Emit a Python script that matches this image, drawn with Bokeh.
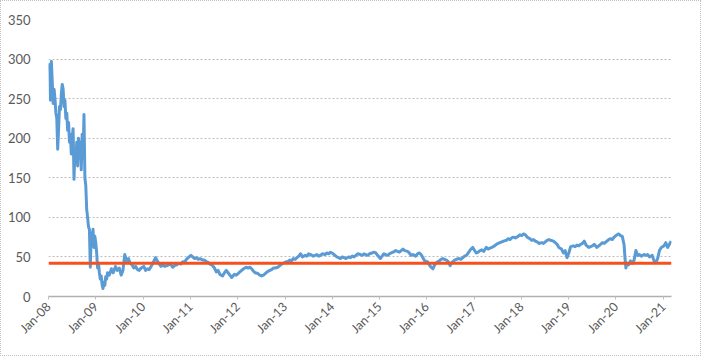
import math
import pandas as pd
from bokeh.plotting import figure
from bokeh.models import Range1d, FixedTicker, DatetimeTickFormatter
from bokeh.embed import file_html
from bokeh.resources import INLINE

# ---- data ----
dates = [
    "2008-01-02", "2008-01-09", "2008-01-16", "2008-01-23", "2008-01-30", "2008-02-06", "2008-02-13",
    "2008-02-20", "2008-02-27", "2008-03-05", "2008-03-12", "2008-03-19", "2008-03-26", "2008-04-02",
    "2008-04-09", "2008-04-16", "2008-04-23", "2008-04-30", "2008-05-07", "2008-05-14", "2008-05-21",
    "2008-05-28", "2008-06-04", "2008-06-11", "2008-06-18", "2008-06-25", "2008-07-02", "2008-07-09",
    "2008-07-16", "2008-07-23", "2008-07-30", "2008-08-06", "2008-08-13", "2008-08-20", "2008-08-27",
    "2008-09-03", "2008-09-10", "2008-09-17", "2008-09-24", "2008-10-01", "2008-10-08", "2008-10-15",
    "2008-10-22", "2008-10-29", "2008-11-05", "2008-11-12", "2008-11-19", "2008-11-26", "2008-12-03",
    "2008-12-10", "2008-12-17", "2008-12-24", "2008-12-31", "2009-01-07", "2009-01-14", "2009-01-21",
    "2009-01-28", "2009-02-04", "2009-02-11", "2009-02-18", "2009-02-25", "2009-03-04", "2009-03-11",
    "2009-03-18", "2009-03-25", "2009-04-01", "2009-04-15", "2009-05-01", "2009-05-15", "2009-06-01",
    "2009-06-15", "2009-07-01", "2009-07-15", "2009-07-29", "2009-08-12", "2009-08-26", "2009-09-09",
    "2009-09-23", "2009-10-07", "2009-10-21", "2009-11-04", "2009-11-18", "2009-12-02", "2009-12-16",
    "2010-01-06", "2010-01-20", "2010-02-03", "2010-02-17", "2010-03-03", "2010-03-17", "2010-04-07",
    "2010-04-21", "2010-05-05", "2010-05-19", "2010-06-02", "2010-06-16", "2010-07-07", "2010-07-21",
    "2010-08-04", "2010-08-18", "2010-09-01", "2010-09-15", "2010-10-06", "2010-10-20", "2010-11-03",
    "2010-11-17", "2010-12-01", "2010-12-15", "2011-01-05", "2011-01-19", "2011-02-02", "2011-02-16",
    "2011-03-02", "2011-03-16", "2011-04-06", "2011-04-20", "2011-05-04", "2011-05-18", "2011-06-01",
    "2011-06-15", "2011-07-06", "2011-07-20", "2011-08-03", "2011-08-17", "2011-09-07", "2011-09-21",
    "2011-10-05", "2011-10-19", "2011-11-02", "2011-11-16", "2011-12-07", "2011-12-21", "2012-01-04",
    "2012-01-18", "2012-02-01", "2012-02-15", "2012-03-07", "2012-03-21", "2012-04-04", "2012-04-18",
    "2012-05-02", "2012-05-16", "2012-06-06", "2012-06-20", "2012-07-04", "2012-07-18", "2012-08-01",
    "2012-08-15", "2012-09-05", "2012-09-19", "2012-10-03", "2012-10-17", "2012-11-07", "2012-11-21",
    "2012-12-05", "2012-12-19", "2013-01-09", "2013-01-23", "2013-02-06", "2013-02-20", "2013-03-06",
    "2013-03-20", "2013-04-03", "2013-04-17", "2013-05-01", "2013-05-15", "2013-06-05", "2013-06-19",
    "2013-07-03", "2013-07-17", "2013-08-07", "2013-08-21", "2013-09-04", "2013-09-18", "2013-10-02",
    "2013-10-16", "2013-11-06", "2013-11-20", "2013-12-04", "2013-12-18", "2014-01-08", "2014-01-22",
    "2014-02-05", "2014-02-19", "2014-03-05", "2014-03-19", "2014-04-02", "2014-04-16", "2014-05-07",
    "2014-05-21", "2014-06-04", "2014-06-18", "2014-07-02", "2014-07-16", "2014-08-06", "2014-08-20",
    "2014-09-03", "2014-09-17", "2014-10-01", "2014-10-15", "2014-11-05", "2014-11-19", "2014-12-03",
    "2014-12-17", "2015-01-07", "2015-01-21", "2015-02-04", "2015-02-18", "2015-03-04", "2015-03-18",
    "2015-04-01", "2015-04-15", "2015-05-06", "2015-05-20", "2015-06-03", "2015-06-17", "2015-07-01",
    "2015-07-15", "2015-08-05", "2015-08-19", "2015-09-02", "2015-09-16", "2015-10-07", "2015-10-21",
    "2015-11-04", "2015-11-18", "2015-12-02", "2015-12-16", "2016-01-06", "2016-01-20", "2016-02-03",
    "2016-02-17", "2016-03-02", "2016-03-16", "2016-04-06", "2016-04-20", "2016-05-04", "2016-05-18",
    "2016-06-01", "2016-06-15", "2016-06-29", "2016-07-13", "2016-08-03", "2016-08-17", "2016-09-07",
    "2016-09-21", "2016-10-05", "2016-10-19", "2016-11-02", "2016-11-16", "2016-12-07", "2016-12-21",
    "2017-01-04", "2017-01-18", "2017-02-01", "2017-02-15", "2017-03-01", "2017-03-15", "2017-04-05",
    "2017-04-19", "2017-05-03", "2017-05-17", "2017-06-07", "2017-06-21", "2017-07-05", "2017-07-19",
    "2017-08-02", "2017-08-16", "2017-09-06", "2017-09-20", "2017-10-04", "2017-10-18", "2017-11-01",
    "2017-11-15", "2017-12-06", "2017-12-20", "2018-01-03", "2018-01-17", "2018-01-31", "2018-02-14",
    "2018-03-07", "2018-03-21", "2018-04-04", "2018-04-18", "2018-05-02", "2018-05-16", "2018-06-06",
    "2018-06-20", "2018-07-04", "2018-07-18", "2018-08-01", "2018-08-15", "2018-09-05", "2018-09-19",
    "2018-10-03", "2018-10-17", "2018-11-07", "2018-11-21", "2018-12-05", "2018-12-19", "2019-01-02",
    "2019-01-16", "2019-02-06", "2019-02-20", "2019-03-06", "2019-03-20", "2019-04-03", "2019-04-17",
    "2019-05-01", "2019-05-15", "2019-06-05", "2019-06-19", "2019-07-03", "2019-07-17", "2019-08-07",
    "2019-08-21", "2019-09-04", "2019-09-18", "2019-10-02", "2019-10-16", "2019-11-06", "2019-11-20",
    "2019-12-04", "2019-12-18", "2020-01-08", "2020-01-22", "2020-02-05", "2020-02-19", "2020-03-04",
    "2020-03-11", "2020-03-18", "2020-03-25", "2020-04-08", "2020-04-22", "2020-05-06", "2020-05-20",
    "2020-06-03", "2020-06-17", "2020-07-01", "2020-07-15", "2020-08-05", "2020-08-19", "2020-09-02",
    "2020-09-16", "2020-10-07", "2020-10-21", "2020-11-04", "2020-11-18", "2020-12-02", "2020-12-16",
    "2021-01-06", "2021-01-20", "2021-02-03", "2021-02-17", "2021-03-01",
]
prices = [
    285, 293, 248, 297, 272, 244, 262,
    250, 232, 225, 186, 212, 240, 236,
    255, 268, 262, 240, 248, 225, 232,
    210, 220, 195, 205, 180, 200, 212,
    148, 185, 170, 195, 165, 200, 175,
    195, 160, 205, 175, 230, 150, 140,
    110, 100, 88, 85, 37, 80, 72,
    85, 62, 76, 68, 55, 36, 42,
    30, 22, 26, 15, 10, 18, 14,
    25, 22, 30, 27, 35, 30, 38,
    33, 36, 27, 33, 53, 45, 48,
    42, 40, 36, 38, 34, 33, 36,
    38, 33, 35, 34, 38, 42, 49,
    45, 41, 38, 40, 38, 39, 41,
    40, 37, 39, 40, 42, 41, 44,
    43, 47, 49, 52, 50, 48, 49,
    47, 48, 46, 46, 44, 43, 41,
    40, 36, 31, 33, 28, 26, 30,
    33, 30, 27, 24, 28, 27, 29,
    31, 33, 35, 37, 36, 37, 35,
    32, 30, 29, 27, 26, 27, 29,
    31, 33, 34, 36, 36, 37, 39,
    41, 42, 44, 44, 46, 45, 48,
    47, 49, 51, 54, 50, 52, 51,
    54, 53, 51, 52, 53, 51, 52,
    54, 53, 55, 54, 56, 54, 52,
    50, 49, 48, 50, 49, 48, 50,
    49, 51, 50, 52, 54, 53, 52,
    54, 53, 52, 54, 55, 56, 55,
    52, 48, 51, 54, 53, 52, 54,
    55, 56, 58, 57, 56, 58, 60,
    58, 57, 55, 52, 53, 51, 54,
    55, 53, 49, 45, 44, 40, 37,
    35, 40, 43, 45, 47, 48, 47,
    46, 44, 39, 43, 46, 47, 48,
    47, 49, 51, 52, 55, 60, 62,
    58, 55, 56, 58, 59, 57, 62,
    60, 61, 62, 64, 66, 67, 68,
    69, 70, 71, 73, 72, 74, 75,
    74, 76, 78, 77, 79, 78, 75,
    73, 71, 72, 70, 69, 67, 68,
    67, 69, 71, 72, 71, 70, 68,
    66, 62, 60, 55, 58, 49, 55,
    63, 64, 63, 65, 64, 66, 67,
    70, 65, 62, 63, 64, 66, 62,
    64, 66, 68, 67, 69, 72, 73,
    72, 75, 78, 79, 77, 76, 65,
    48, 36, 42, 40, 45, 42, 46,
    58, 52, 53, 51, 53, 52, 53,
    50, 52, 45, 43, 48, 58, 62,
    64, 68, 62, 66, 70,
]
reference_level = 42
ref_dates = ["2008-01-01", "2021-03-05"]
tick_years = list(range(2008, 2022))
y_ticks = [0, 50, 100, 150, 200, 250, 300, 350]

x = pd.to_datetime(dates)
xr = pd.to_datetime(ref_dates)

FONT = "Lato"
TXT = "#595959"

p = figure(width=701, height=356, x_axis_type="datetime",
           output_backend="svg", toolbar_location=None,
           x_range=Range1d(xr[0], xr[1]), y_range=Range1d(0, 350),
           min_border_left=47, min_border_right=31, min_border_top=18, min_border_bottom=61)
p.styles = {"border": "1px dotted #C0C0C0"}
p.outline_line_color = None
p.background_fill_color = "white"
p.border_fill_color = "white"

p.line(x, prices, line_color="#5B9BD5", line_width=3, line_join="round")
p.line(xr, [reference_level, reference_level], line_color="#F4511E", line_width=3)

# x axis
tick_ms = [pd.Timestamp(f"{y}-01-01").value // 10**6 for y in tick_years]
p.xaxis.ticker = FixedTicker(ticks=tick_ms)
fmt = "%b-%y"
p.xaxis.formatter = DatetimeTickFormatter(years=fmt, months=fmt, days=fmt, hours=fmt,
                                          minutes=fmt, seconds=fmt, milliseconds=fmt,
                                          microseconds=fmt, minsec=fmt, hourmin=fmt)
p.xaxis.major_label_orientation = math.pi / 4
p.xaxis.axis_line_color = "#B0B0B0"
p.xaxis.axis_line_width = 1.5
p.xaxis.major_tick_line_color = "#BFBFBF"
p.xaxis.major_tick_out = 3
p.xaxis.major_tick_in = 0
p.xaxis.minor_tick_line_color = None
p.xaxis.major_label_standoff = 5
p.xaxis.major_label_text_font = FONT
p.xaxis.major_label_text_font_size = "12.5px"
p.xaxis.major_label_text_color = TXT

# y axis
p.yaxis.ticker = FixedTicker(ticks=y_ticks)
p.yaxis.axis_line_color = None
p.yaxis.major_tick_line_color = None
p.yaxis.minor_tick_line_color = None
p.yaxis.major_label_standoff = 12
p.yaxis.major_label_text_font = FONT
p.yaxis.major_label_text_font_size = "13px"
p.yaxis.major_label_text_color = TXT

p.xgrid.grid_line_color = None
p.ygrid.grid_line_color = "#BDBDBD"
p.ygrid.grid_line_dash = "2 2"
p.ygrid.grid_line_width = 1

open("out.html", "w").write(file_html(p, INLINE))
